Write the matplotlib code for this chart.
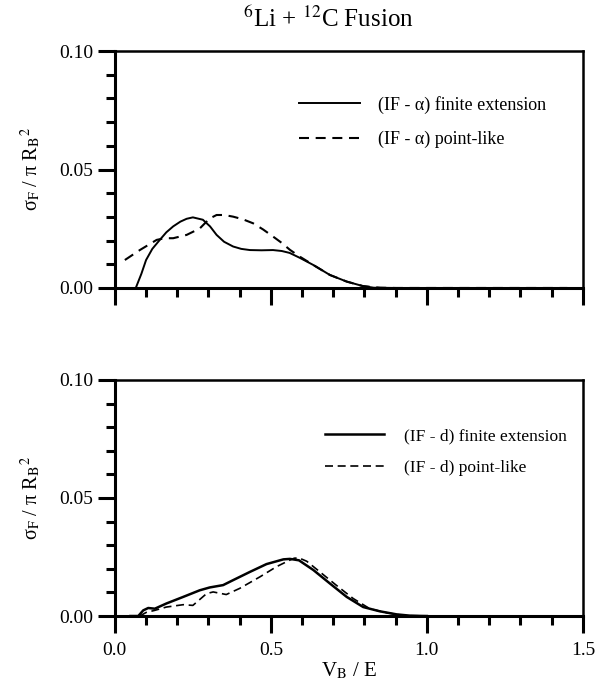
import numpy as np
import matplotlib
matplotlib.use("Agg")
import matplotlib.pyplot as plt
from matplotlib.ticker import MultipleLocator, FormatStrFormatter

plt.rcParams['font.family'] = ['Liberation Serif', 'DejaVu Serif']
plt.rcParams['mathtext.fontset'] = 'stix'

# upper panel: IF - alpha
ea_x = [0.03, 0.067, 0.085, 0.10, 0.12, 0.144, 0.165, 0.187, 0.21, 0.23, 0.25,
        0.282, 0.305, 0.326, 0.35, 0.379, 0.405, 0.433, 0.47, 0.507, 0.535,
        0.56, 0.593, 0.636, 0.689, 0.743, 0.795, 0.83, 0.9, 1.45]
ea_y = [0.0, 0.0, 0.006, 0.0118, 0.0165, 0.0203, 0.0235, 0.026, 0.028, 0.0292, 0.0298,
        0.0288, 0.026, 0.0224, 0.0195, 0.0175, 0.0165, 0.016, 0.0159, 0.016, 0.0156,
        0.0148, 0.0127, 0.0097, 0.0055, 0.0027, 0.0008, 0.0001, 0.0, 0.0]
pa_x = [0.032, 0.08, 0.134, 0.16, 0.187, 0.23, 0.272, 0.29, 0.305, 0.326, 0.35,
        0.379, 0.41, 0.443, 0.475, 0.507, 0.535, 0.561, 0.593, 0.636, 0.689,
        0.743, 0.795, 0.85, 0.9, 1.45]
pa_y = [0.0118, 0.016, 0.0203, 0.021, 0.021, 0.0224, 0.0251, 0.0275, 0.0294, 0.0308, 0.0308,
        0.0301, 0.029, 0.0273, 0.0247, 0.0217, 0.019, 0.0161, 0.0132, 0.0097, 0.0055,
        0.0027, 0.0008, 0.0001, 0.0, 0.0]

# lower panel: IF - d
ed_x = [0.05, 0.075, 0.091, 0.107, 0.128, 0.165, 0.219, 0.272, 0.304, 0.347, 0.379,
        0.433, 0.486, 0.54, 0.561, 0.59, 0.636, 0.689, 0.743, 0.796, 0.849, 0.903,
        0.95, 1.0]
ed_y = [0.0, 0.0, 0.0024, 0.0034, 0.0031, 0.0053, 0.0081, 0.0109, 0.0121, 0.0131, 0.0152,
        0.0187, 0.022, 0.024, 0.0242, 0.0236, 0.0195, 0.0138, 0.0081, 0.0038, 0.002, 0.0007,
        0.0001, 0.0]
pd_x = [0.08, 0.1, 0.128, 0.165, 0.219, 0.25, 0.294, 0.315, 0.357, 0.4, 0.465,
        0.518, 0.561, 0.575, 0.59, 0.615, 0.657, 0.71, 0.764, 0.817, 0.87, 0.92, 1.0]
pd_y = [0.0, 0.0015, 0.0024, 0.0038, 0.0048, 0.0045, 0.0095, 0.0102, 0.0091, 0.0117, 0.0166,
        0.0209, 0.0237, 0.0245, 0.0246, 0.0232, 0.0187, 0.013, 0.0074, 0.0031, 0.0014, 0.0003, 0.0]

ylabel = r'σ$_{\rm F}$ / π R$_{\rm B}$$^{2}$'

fig = plt.figure(figsize=(6.11, 6.85), dpi=100)
ax1 = fig.add_axes([0.188, 0.5796, 0.766, 0.3459])
ax2 = fig.add_axes([0.188, 0.1007, 0.766, 0.3446])

def style(ax):
    ax.set_xlim(0, 1.5)
    ax.set_ylim(0, 0.10)
    ax.xaxis.set_major_locator(MultipleLocator(0.5))
    ax.xaxis.set_minor_locator(MultipleLocator(0.1))
    ax.yaxis.set_major_locator(MultipleLocator(0.05))
    ax.yaxis.set_minor_locator(MultipleLocator(0.01))
    ax.xaxis.set_major_formatter(FormatStrFormatter('%.1f'))
    ax.yaxis.set_major_formatter(FormatStrFormatter('%.2f'))
    ax.tick_params(which='both', direction='out', top=False, right=False,
                   width=2.2, labelsize=14)
    ax.tick_params(which='major', length=12.5)
    ax.tick_params(which='minor', length=6.5)
    ax.tick_params(axis='x', which='major', pad=6)
    ax.tick_params(axis='y', which='major', pad=3)
    for s in ['left', 'bottom']:
        ax.spines[s].set_linewidth(2.2)
    for s in ['top', 'right']:
        ax.spines[s].set_linewidth(1.8)
    ax.set_ylabel(ylabel, fontsize=14.5, labelpad=12)

style(ax1)
style(ax2)
ax1.tick_params(labelbottom=False)

ax1.plot(ea_x, ea_y, color='black', lw=1.4, label='(IF - α) finite extension')
ax1.plot(pa_x, pa_y, color='black', lw=1.5, dashes=(4.8, 3.2), label='(IF - α) point-like')
ax1.legend(loc='upper left', bbox_to_anchor=(0.393, 0.812), frameon=False, fontsize=13,
           handlelength=3.4, handletextpad=1.0, labelspacing=0.95, borderpad=0, borderaxespad=0)

ax2.plot(ed_x, ed_y, color='black', lw=1.8, label='(IF - d) finite extension')
ax2.plot(pd_x, pd_y, color='black', lw=1.2, dashes=(4.8, 2.8), label='(IF - d) point-like')
ax2.legend(loc='upper left', bbox_to_anchor=(0.449, 0.795), frameon=False, fontsize=12.5,
           handlelength=3.4, handletextpad=1.15, labelspacing=0.9, borderpad=0, borderaxespad=0)

ax2.set_xlabel(r'V$_{\rm B}$ / E', fontsize=15, labelpad=1)

fig.text(0.537, 0.972, r'$^{6}$Li + $^{12}$C Fusion', ha='center', va='center', fontsize=18)

fig.savefig('out.png', dpi=100)
